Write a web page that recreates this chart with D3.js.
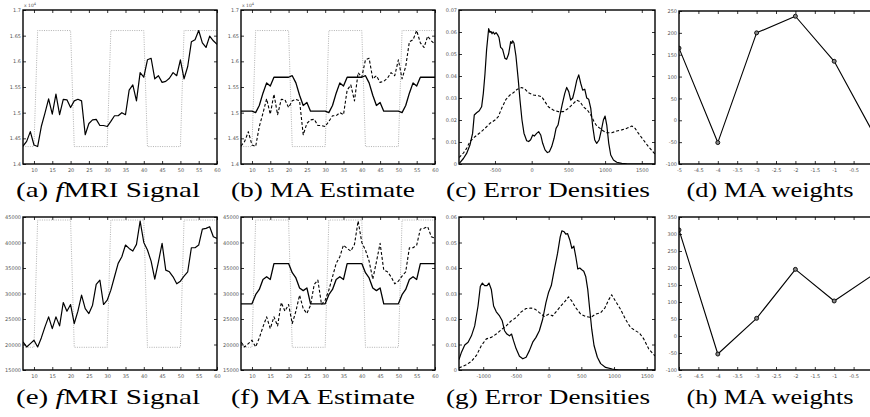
<!DOCTYPE html>
<html><head><meta charset="utf-8">
<script src="https://cdn.jsdelivr.net/npm/d3@7"></script>
<style>body{margin:0;background:#fff}svg{display:block}</style>
</head><body><svg id="chart" width="870" height="417"></svg>
<script>
// ---------------- DATA ----------------
const timeSteps = [7,8,9,10,11,12,13,14,15,16,17,18,19,20,21,22,23,24,25,26,27,28,29,30,31,32,33,34,35,36,37,38,39,40,41,42,43,44,45,46,47,48,49,50,51,52,53,54,55,56,57,58,59,60];

const signalTop = [14350,14440,14630,14370,14340,14730,14990,15270,14970,15360,14960,15260,15250,15100,15230,15260,15230,14570,14790,14860,14870,14750,14750,14730,14830,14940,14940,15000,14960,15440,15540,15230,15780,15690,16030,16060,15660,15720,15590,15610,15670,15780,15720,16030,15660,15900,16380,16420,16600,16360,16270,16490,16400,16330];
const stimulusTop = [14340,14340,14340,14340,16600,16600,16600,16600,16600,16600,16600,16600,16600,16600,14340,14340,14340,14340,14340,14340,14340,14340,14340,14340,16600,16600,16600,16600,16600,16600,16600,16600,16600,16600,14340,14340,14340,14340,14340,14340,14340,14340,14340,14340,16600,16600,16600,16600,16600,16600,16600,16600,16600,16600];
const maEstimateTop = [15030,15030,15030,15030,15000,15140,15380,15580,15520,15690,15690,15690,15690,15690,15720,15580,15340,15140,15200,15030,15030,15030,15030,15030,15000,15140,15380,15580,15520,15690,15690,15690,15690,15690,15720,15580,15340,15140,15200,15030,15030,15030,15030,15030,15000,15140,15380,15580,15520,15690,15690,15690,15690,15690];

const signalBottom = [20500,19520,20170,20830,19520,21290,23450,25420,23120,25420,23650,28230,26530,27840,24110,26530,29670,27050,26070,27710,31770,32620,27840,28690,30660,33280,35900,37210,39500,38840,38320,39630,44210,40020,38520,36350,32820,36220,39830,34590,34260,33280,31900,32420,33410,34260,38970,38970,39500,42640,42770,43100,41130,40810];
const stimulusBottom = [19450,19450,19450,19450,44410,44410,44410,44410,44410,44410,44410,44410,44410,44410,19450,19450,19450,19450,19450,19450,19450,19450,19450,19450,44410,44410,44410,44410,44410,44410,44410,44410,44410,44410,19450,19450,19450,19450,19450,19450,19450,19450,19450,19450,44410,44410,44410,44410,44410,44410,44410,44410,44410,44410];
const maEstimateBottom = [27970,27970,27970,27970,29770,30800,32760,33280,32750,35870,35870,35870,35870,35870,34070,33040,31080,30560,31090,27970,27970,27970,27970,27970,29770,30800,32760,33280,32750,35870,35870,35870,35870,35870,34070,33040,31080,30560,31090,27970,27970,27970,27970,27970,29770,30800,32760,33280,32750,35870,35870,35870,35870,35870];

const densityTopSolid = [[-990,0.0004],[-977,0.0006],[-930,0.0025],[-886,0.0048],[-841,0.0086],[-805,0.0139],[-782,0.0223],[-750,0.0233],[-714,0.0242],[-682,0.026],[-659,0.032],[-636,0.041],[-614,0.052],[-586,0.0615],[-568,0.0598],[-555,0.0603],[-540,0.0592],[-525,0.0600],[-505,0.0590],[-485,0.0597],[-465,0.0588],[-445,0.0575],[-423,0.053],[-405,0.0525],[-395,0.052],[-364,0.048],[-341,0.0476],[-314,0.050],[-286,0.0556],[-270,0.0548],[-259,0.056],[-241,0.055],[-214,0.049],[-182,0.038],[-159,0.029],[-132,0.020],[-105,0.014],[-68,0.0106],[-41,0.0102],[-14,0.011],[14,0.0132],[36,0.0127],[68,0.0139],[95,0.0147],[123,0.0132],[150,0.0094],[182,0.0064],[214,0.0052],[241,0.0056],[273,0.0079],[305,0.0117],[332,0.0162],[359,0.0177],[386,0.0223],[414,0.0268],[450,0.032],[477,0.0348],[505,0.0329],[532,0.029],[559,0.030],[586,0.0336],[614,0.038],[641,0.0405],[668,0.0367],[695,0.0336],[723,0.034],[750,0.030],[777,0.0294],[805,0.0253],[832,0.017],[859,0.0109],[886,0.0094],[918,0.0109],[950,0.0155],[977,0.020],[1000,0.0218],[1023,0.0177],[1050,0.0094],[1077,0.0041],[1114,0.0018],[1159,0.0008],[1227,0.0003],[1295,0.0001],[1400,0],[1680,0]];
const densityTopDashed = [[-990,0.003],[-977,0.0033],[-930,0.005],[-886,0.0071],[-841,0.0102],[-773,0.0124],[-705,0.0142],[-636,0.0162],[-568,0.0185],[-500,0.020],[-455,0.0215],[-409,0.0253],[-350,0.0294],[-295,0.0314],[-250,0.0324],[-195,0.034],[-136,0.0348],[-91,0.034],[-45,0.0324],[23,0.0314],[91,0.031],[136,0.0306],[182,0.0283],[227,0.026],[295,0.0245],[364,0.0238],[432,0.0238],[500,0.0253],[545,0.0268],[614,0.029],[659,0.0283],[705,0.026],[759,0.0245],[805,0.0223],[850,0.0192],[886,0.0173],[932,0.0162],[977,0.015],[1023,0.0142],[1091,0.0142],[1159,0.015],[1227,0.0155],[1295,0.0162],[1364,0.0173],[1409,0.0162],[1455,0.0139],[1523,0.0109],[1591,0.0079],[1680,0.0045]];

const densityBottomSolid = [[-1370,0.0041],[-1332,0.007],[-1282,0.0098],[-1231,0.0109],[-1180,0.0134],[-1130,0.0173],[-1079,0.0251],[-1044,0.0328],[-1013,0.0341],[-978,0.0331],[-942,0.0331],[-912,0.0341],[-876,0.0316],[-841,0.0251],[-800,0.0228],[-750,0.0212],[-709,0.0193],[-674,0.0154],[-638,0.0141],[-598,0.0134],[-567,0.0141],[-537,0.0115],[-496,0.0083],[-446,0.0054],[-395,0.0044],[-344,0.005],[-294,0.0076],[-243,0.0109],[-193,0.0128],[-142,0.0154],[-91,0.0199],[-41,0.0264],[0,0.0305],[41,0.0331],[86,0.0393],[137,0.0458],[177,0.0522],[203,0.0546],[238,0.0542],[263,0.0533],[289,0.0535],[324,0.051],[355,0.0477],[385,0.0486],[415,0.0445],[446,0.0396],[476,0.040],[507,0.0393],[537,0.0387],[567,0.0367],[598,0.0316],[628,0.0238],[659,0.016],[694,0.0096],[745,0.005],[795,0.0025],[871,0.001],[973,0.0004],[1074,0],[1626,0]];
const densityBottomDashed = [[-1370,0.0008],[-1256,0.0021],[-1180,0.0034],[-1104,0.0057],[-1028,0.0096],[-952,0.0122],[-876,0.0128],[-800,0.0141],[-724,0.0158],[-648,0.0173],[-572,0.0193],[-496,0.0206],[-420,0.0228],[-344,0.0241],[-269,0.0243],[-203,0.0238],[-142,0.0225],[-66,0.021],[0,0.0219],[61,0.0212],[122,0.0231],[187,0.0251],[253,0.027],[304,0.0287],[355,0.027],[415,0.0244],[491,0.0219],[567,0.021],[643,0.0206],[719,0.0219],[795,0.0225],[861,0.0244],[922,0.0277],[963,0.0295],[1023,0.027],[1099,0.0238],[1175,0.0199],[1251,0.0167],[1327,0.0154],[1388,0.0145],[1454,0.0122],[1530,0.0083],[1626,0.0055]];

const weightLags = [-5,-4,-3,-2,-1,0];
const weightsTop = [165,-51,200,238,135,-28];
const weightsBottom = [312,-53,52,196,103,180];

const ticksTime = [10,15,20,25,30,35,40,45,50,55,60];
const ticksSignalTop = [14000,14500,15000,15500,16000,16500,17000];
const ticksSignalBottom = [15000,20000,25000,30000,35000,40000,45000];
const ticksErrorTop = [-500,0,500,1000,1500];
const ticksErrorBottom = [-1000,-500,0,500,1000,1500];
const ticksDensityTop = [0,0.01,0.02,0.03,0.04,0.05,0.06,0.07];
const ticksDensityBottom = [0,0.01,0.02,0.03,0.04,0.05,0.06];
const ticksLag = [-5,-4.5,-4,-3.5,-3,-2.5,-2,-1.5,-1,-0.5];
const ticksWeightTop = [-100,-50,0,50,100,150,200,250];
const ticksWeightBottom = [-100,-50,0,50,100,150,200,250,300,350];

const captionLetters = ["a","b","c","d","e","f","g","h"];

// ---------------- DRAWING ----------------
const svg = d3.select("#chart");
svg.append("rect").attr("width",870).attr("height",417).attr("fill","#fff");

const fmtSci = v => String(+(v/10000).toFixed(2));
const fmtDens = v => String(+v.toFixed(2));
const fmtPlain = v => String(v);

function makePanel(o) {
  const g = svg.append("g");
  const x = d3.scaleLinear().domain(o.xd).range([o.x0, o.x1]);
  const y = d3.scaleLinear().domain(o.yd).range([o.y1, o.y0]);
  const cid = "clip" + o.id;
  svg.append("clipPath").attr("id", cid).append("rect")
    .attr("x", o.x0).attr("y", o.y0).attr("width", o.x1 - o.x0).attr("height", o.y1 - o.y0);

  const styleAxis = sel => {
    sel.select(".domain").remove();
    sel.selectAll("line").attr("stroke", "#000").attr("stroke-width", 0.8);
    sel.selectAll("text").attr("fill", "#555").attr("font-size", 5)
      .attr("font-family", "DejaVu Sans, sans-serif");
  };
  g.append("g").attr("transform", `translate(0,${o.y1})`)
    .call(d3.axisBottom(x).tickValues(o.xt).tickSize(-3).tickPadding(4).tickFormat(o.xf)).call(styleAxis);
  g.append("g").attr("transform", `translate(0,${o.y0})`)
    .call(d3.axisTop(x).tickValues(o.xt).tickSize(-3).tickFormat("")).call(styleAxis);
  g.append("g").attr("transform", `translate(${o.x0},0)`)
    .call(d3.axisLeft(y).tickValues(o.yt).tickSize(-3).tickPadding(2).tickFormat(o.yf)).call(styleAxis);
  g.append("g").attr("transform", `translate(${o.x1},0)`)
    .call(d3.axisRight(y).tickValues(o.yt).tickSize(-3).tickFormat("")).call(styleAxis);

  const plot = g.append("g").attr("clip-path", `url(#${cid})`);
  o.series.forEach(s => {
    const line = d3.line().x(d => x(d[0])).y(d => y(d[1]));
    plot.append("path").attr("d", line(s.data)).attr("fill", "none")
      .attr("stroke", s.color || "#000").attr("stroke-width", s.w || 1.1)
      .attr("stroke-dasharray", s.dash || null).attr("stroke-linejoin", "round");
    if (s.markers) {
      plot.selectAll(null).data(s.data).enter().append("circle")
        .attr("cx", d => x(d[0])).attr("cy", d => y(d[1])).attr("r", 2)
        .attr("fill", "#888").attr("stroke", "#000").attr("stroke-width", 0.9);
    }
  });

  g.append("rect").attr("x", o.x0).attr("y", o.y0).attr("width", o.x1 - o.x0).attr("height", o.y1 - o.y0)
    .attr("fill", "none").attr("stroke", "#000").attr("stroke-width", 1.4);

  if (o.expo) {
    const t = g.append("text").attr("x", o.x0 + 1).attr("y", o.y0 - 3).attr("font-size", 4.5)
      .attr("fill", "#555").attr("font-family", "DejaVu Sans, sans-serif");
    t.append("tspan").text("x 10");
    t.append("tspan").attr("dy", -2).attr("font-size", 3.5).text("4");
  }

  const cap = svg.append("text").attr("x", o.cx).attr("y", o.cy).attr("text-anchor", "middle")
    .attr("font-family", "Liberation Serif, DejaVu Serif, serif").attr("font-size", 21)
    .attr("fill", "#000").attr("textLength", o.cw).attr("lengthAdjust", "spacingAndGlyphs");
  cap.append("tspan").text(`(${o.letter}) `);
  if (o.fmri) {
    cap.append("tspan").attr("font-style", "italic").text("f");
    cap.append("tspan").text("MRI Signal");
  } else {
    cap.append("tspan").text(o.caption);
  }
}

const zipT = arr => timeSteps.map((t, i) => [t, arr[i]]);
const zipW = arr => weightLags.map((l, i) => [l, arr[i]]);
const dotted = { color: "#a8a8a8", w: 0.9, dash: "1,1.3" };

const rows = [
  { y0: 10, y1: 164, cy: 197, sig: signalTop, stim: stimulusTop, ma: maEstimateTop,
    syd: [14000, 17000], syt: ticksSignalTop, syf: fmtSci, expo: true,
    dSolid: densityTopSolid, dDash: densityTopDashed, exd: [-990, 1680], ext: ticksErrorTop,
    dyd: [0, 0.07], dyt: ticksDensityTop, w: weightsTop, wyd: [-100, 250], wyt: ticksWeightTop, wy0: 11 },
  { y0: 217, y1: 370, cy: 404, sig: signalBottom, stim: stimulusBottom, ma: maEstimateBottom,
    syd: [15000, 45000], syt: ticksSignalBottom, syf: fmtPlain, expo: false,
    dSolid: densityBottomSolid, dDash: densityBottomDashed, exd: [-1370, 1626], ext: ticksErrorBottom,
    dyd: [0, 0.06], dyt: ticksDensityBottom, w: weightsBottom, wyd: [-100, 350], wyt: ticksWeightBottom, wy0: 217 }
];

rows.forEach((r, ri) => {
  const L = captionLetters.slice(ri * 4, ri * 4 + 4);
  makePanel({ id: L[0], letter: L[0], x0: 23, x1: 217, y0: r.y0, y1: r.y1, xd: [7, 60], yd: r.syd,
    xt: ticksTime, yt: r.syt, xf: fmtPlain, yf: r.syf, expo: r.expo,
    series: [Object.assign({ data: zipT(r.stim) }, dotted), { data: zipT(r.sig), w: 1.2 }],
    cx: 108, cy: r.cy, cw: 184, fmri: true });
  makePanel({ id: L[1], letter: L[1], x0: 241, x1: 435, y0: r.y0, y1: r.y1, xd: [7, 60], yd: r.syd,
    xt: ticksTime, yt: r.syt, xf: fmtPlain, yf: r.syf, expo: r.expo,
    series: [Object.assign({ data: zipT(r.stim) }, dotted), { data: zipT(r.sig), w: 1.1, dash: "3,2" },
             { data: zipT(r.ma), w: 1.3 }],
    cx: 323, cy: r.cy, cw: 184, caption: "MA Estimate" });
  makePanel({ id: L[2], letter: L[2], x0: 459, x1: 655, y0: r.y0, y1: r.y1, xd: r.exd, yd: r.dyd,
    xt: r.ext, yt: r.dyt, xf: fmtPlain, yf: fmtDens,
    series: [{ data: r.dSolid, w: 1.2 }, { data: r.dDash, w: 1.1, dash: "3,2" }],
    cx: 548, cy: r.cy, cw: 204, caption: "Error Densities" });
  makePanel({ id: L[3], letter: L[3], x0: 679, x1: 873, y0: r.wy0, y1: r.y1, xd: [-5, 0], yd: r.wyd,
    xt: ticksLag, yt: r.wyt, xf: fmtPlain, yf: fmtPlain,
    series: [{ data: zipW(r.w), w: 1.1, markers: true }],
    cx: 770, cy: r.cy, cw: 167, caption: "MA weights" });
});
</script>
</body></html>
